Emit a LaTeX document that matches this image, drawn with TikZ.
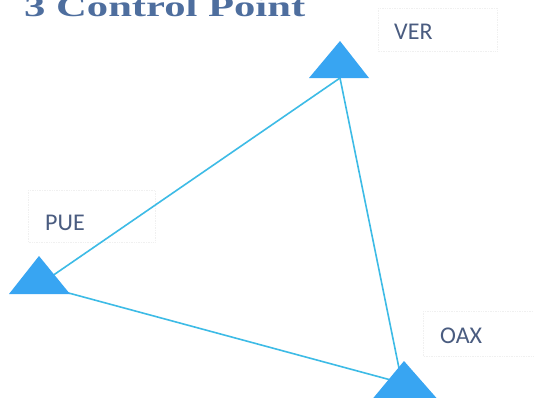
\documentclass[tikz,border=0pt]{standalone}
\usepackage{fontspec}
\usepackage{graphicx}
\setmainfont{Liberation Serif}
\newfontfamily\labelfont{Carlito}
\definecolor{triblue}{HTML}{38A5F2}
\definecolor{linkblue}{HTML}{3DBBE6}
\definecolor{titleblue}{HTML}{4E6E9E}
\definecolor{labelblue}{HTML}{4A5C80}
\tikzset{
  tri/.style={fill=triblue,draw=none},
  link/.style={draw=linkblue,line width=1.6pt},
  labelbox/.style={draw=black!6,densely dotted,line width=0.7pt},
  lab/.style={font=\labelfont\fontsize{24}{26}\selectfont,text=labelblue,anchor=base west,inner sep=0pt}
}
\begin{document}
\begin{tikzpicture}[x=1pt,y=-1pt]
\useasboundingbox (0,0) rectangle (534,397);
\clip (0,0) rectangle (534,397);
\fill[white] (0,0) rectangle (534,397);
% label boxes
\draw[labelbox] (378,8) rectangle (497,51);
\draw[labelbox] (28,190) rectangle (155,242);
\draw[labelbox] (423,311) rectangle (540,356);
% anchor points
\coordinate (ver) at (340,78);
\coordinate (pue) at (39,285);
\coordinate (oax) at (402,383);
% connectors
\draw[link] (ver) -- (pue);
\draw[link] (ver) -- (oax);
\draw[link] (pue) -- (oax);
% triangles
\fill[tri] (340,41) -- (369,78) -- (309,78) -- cycle;
\fill[tri] (39,256) -- (70,294) -- (9,294) -- cycle;
\fill[tri] (404,361) -- (440,402) -- (370,402) -- cycle;
% texts
\node[anchor=base west,inner sep=0pt,text=titleblue] (title) at (24,16)
  {\scalebox{1.47}[1]{\fontsize{29}{32}\selectfont\bfseries 3 Control Point}};
\node[lab] (verl) at (394,39) {VER};
\node[lab] (puel) at (45,230) {PUE};
\node[lab] (oaxl) at (440,343) {OAX};
\end{tikzpicture}
\end{document}
